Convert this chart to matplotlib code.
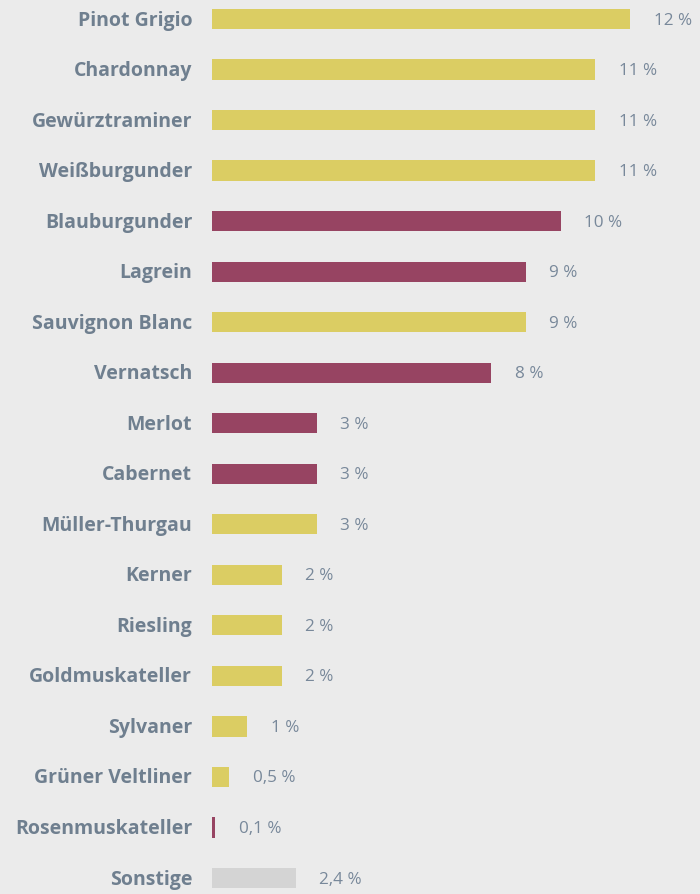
import matplotlib
matplotlib.use("Agg")
import matplotlib.pyplot as plt

# Rebsorten-Anteile (%)
varieties = ["Pinot Grigio", "Chardonnay", "Gewürztraminer", "Weißburgunder",
             "Blauburgunder", "Lagrein", "Sauvignon Blanc", "Vernatsch",
             "Merlot", "Cabernet", "Müller-Thurgau", "Kerner", "Riesling",
             "Goldmuskateller", "Sylvaner", "Grüner Veltliner",
             "Rosenmuskateller", "Sonstige"]
shares = [12, 11, 11, 11, 10, 9, 9, 8, 3, 3, 3, 2, 2, 2, 1, 0.5, 0.1, 2.4]
wine_type = ["weiss", "weiss", "weiss", "weiss", "rot", "rot", "weiss", "rot",
             "rot", "rot", "weiss", "weiss", "weiss", "weiss", "weiss", "weiss",
             "rot", "sonst"]
value_labels = ["12 %", "11 %", "11 %", "11 %", "10 %", "9 %", "9 %", "8 %",
                "3 %", "3 %", "3 %", "2 %", "2 %", "2 %", "1 %", "0,5 %",
                "0,1 %", "2,4 %"]

colors = {"weiss": "#dbcd63", "rot": "#974462", "sonst": "#d4d4d4"}
bg = "#ebebeb"
text_col = "#6f7f8f"

plt.rcParams['font.family'] = ['Open Sans', 'DejaVu Sans']

fig = plt.figure(figsize=(7, 8.94), dpi=100, facecolor=bg)
ax = fig.add_axes([212 / 700, 0, 1 - 212 / 700, 1])
ax.set_facecolor(bg)

ypos = list(range(len(varieties)))
ax.barh(ypos, shares, height=0.4,
        color=[colors[t] for t in wine_type], edgecolor="none")

for y, v, lab in zip(ypos, shares, value_labels):
    ax.text(v + 0.68, y + 0.03, lab, va="center", ha="left",
            fontsize=12.3, color="#78889a")

for y, name in zip(ypos, varieties):
    ax.text(-0.57, y + 0.03, name, va="center", ha="right", fontsize=14,
            fontweight="bold", color=text_col, clip_on=False)

ax.set_xlim(0, 14)
ax.set_ylim(17 + 16 / 50.53, -19 / 50.53)
ax.axis("off")

fig.savefig("out.png", dpi=100, facecolor=bg)
plt.close(fig)
